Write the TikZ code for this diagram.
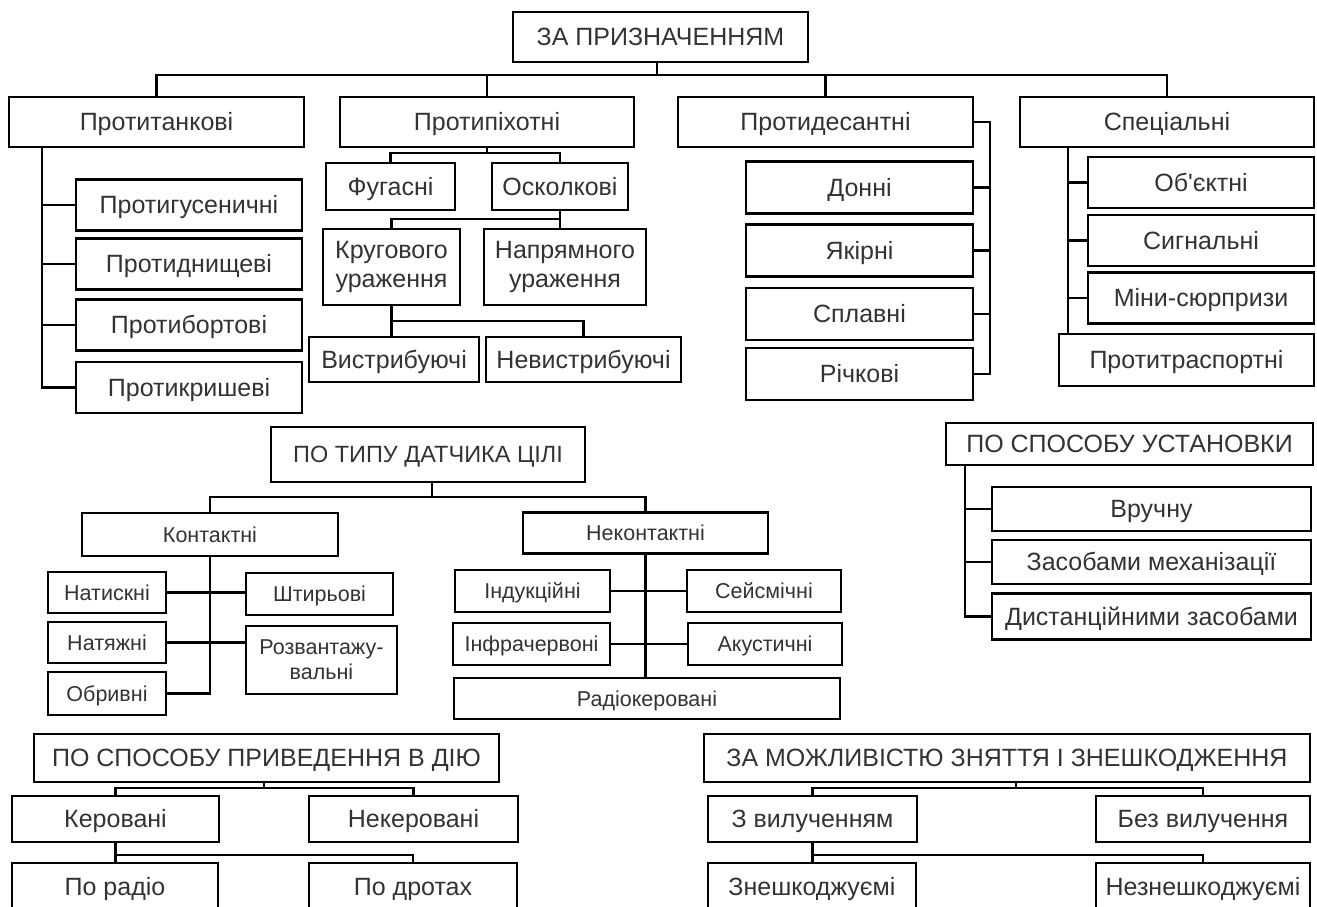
\documentclass[tikz,border=0pt]{standalone}
\usepackage{fontspec}
\setmainfont{Liberation Sans}[Ligatures=TeXOff]
\definecolor{txtgray}{HTML}{333333}
\tikzset{
  box/.style={draw, inner sep=2pt, text=txtgray, align=center, text height=18pt, text depth=0.5pt,
    font=\fontsize{25}{29}\selectfont},
  sbox/.style={box, text height=15.5pt, font=\fontsize{21.5}{25}\selectfont},
  twoline/.style={text height=, text depth=},
  wh/.style 2 args={minimum width=#1pt, minimum height=#2pt},
}
\begin{document}
\begin{tikzpicture}[x=1pt, y=-1pt, line width=2.6pt]
  \clip (0,0) rectangle (1317,907);
  \fill[white] (0,0) rectangle (1317,907);

  % ZA PRYZNACHENNYAM
  \node[box, wh={295}{50}] (zap) at (660.5,37) {ЗА ПРИЗНАЧЕННЯМ};
  \node[box, wh={295}{50}] (ptank) at (156.5,122) {Протитанкові};
  \node[box, wh={294}{50}] (ppih) at (487,122) {Протипіхотні};
  \node[box, wh={295}{50}] (pdes) at (825.5,122) {Протидесантні};
  \node[box, wh={294}{50}] (spec) at (1167,122) {Спеціальні};

  \node[box, wh={226}{51}] (pgus) at (189,205) {Протигусеничні};
  \node[box, wh={226}{51}] (pdno) at (189,264) {Протиднищеві};
  \node[box, wh={226}{51}] (pbort) at (189,325) {Протибортові};
  \node[box, wh={226}{51}] (pkrysh) at (189,387.5) {Протикришеві};

  \node[box, wh={129}{47}] (fug) at (390.5,186.5) {Фугасні};
  \node[box, wh={136}{47}] (osk) at (560,186.5) {Осколкові};
  \node[box, twoline, wh={137}{76}] (krug) at (391.5,267) {Кругового\\ураження};
  \node[box, twoline, wh={162}{76}] (napr) at (565,267) {Напрямного\\ураження};
  \node[box, wh={170}{45}] (vystr) at (394,359.5) {Вистрибуючі};
  \node[box, wh={195}{45}] (nevystr) at (583.5,359.5) {Невистрибуючі};

  \node[box, wh={227}{52}] (don) at (859.5,187.5) {Донні};
  \node[box, wh={227}{52}] (yak) at (859.5,250.5) {Якірні};
  \node[box, wh={227}{52}] (splav) at (859.5,314) {Сплавні};
  \node[box, wh={227}{52}] (rich) at (859.5,374) {Річкові};

  \node[box, wh={226}{51}] (obj) at (1201,182.5) {Об'єктні};
  \node[box, wh={226}{51}] (sign) at (1201,240.5) {Сигнальні};
  \node[box, wh={226}{51}] (minys) at (1201,298) {Міни-сюрпризи};
  \node[box, wh={255}{52}] (ptrans) at (1186.5,360) {Протитраспортні};

  \coordinate (zapbus) at (657,75);
  \draw (zap.south -| zapbus) -- (zapbus);
  \draw (ptank.north) |- (zapbus) -| (spec.north);
  \draw (ppih.north) -- (ppih.north |- zapbus);
  \draw (pdes.north) -- (pdes.north |- zapbus);

  \coordinate (tankx) at (42,0);
  \draw (ptank.south -| tankx) |- (pkrysh.west);
  \foreach \n in {pgus,pdno,pbort}
    \draw (\n.west) -- (\n.west -| tankx);

  \coordinate (pihbus) at (0,153);
  \draw (ppih.south) -- (ppih.south |- pihbus);
  \draw (fug.north) |- (ppih.south |- pihbus) -| (osk.north);
  \coordinate (oskbus) at (0,219);
  \draw (osk.south) -- (osk.south |- napr.north);
  \draw (krug.north) |- (osk.south |- oskbus);
  \coordinate (krugbus) at (0,321);
  \draw (krug.south) -- (krug.south |- vystr.north);
  \draw (krug.south |- krugbus) -| (nevystr.north);

  \coordinate (desx) at (990,0);
  \draw (pdes.east) -| (desx |- rich.east) -- (rich.east);
  \foreach \n in {don,yak,splav}
    \draw (\n.east) -- (\n.east -| desx);

  \coordinate (specx) at (1068,0);
  \draw (spec.south -| specx) -- (ptrans.north -| specx);
  \foreach \n in {obj,sign,minys}
    \draw (\n.west) -- (\n.west -| specx);

  % PO TYPU DATCHYKA
  \node[box, wh={314}{55}, text height=17pt, font=\fontsize{23.5}{27}\selectfont] (ptyp) at (428,454.5) {ПО ТИПУ ДАТЧИКА ЦІЛІ};
  \node[sbox, wh={256}{43}] (kont) at (210,534.5) {Контактні};
  \node[sbox, wh={245}{41}] (nekont) at (645.5,533) {Неконтактні};
  \node[sbox, wh={118}{41}] (natysk) at (107,592.5) {Натискні};
  \node[sbox, wh={118}{41}] (natyag) at (107,642.5) {Натяжні};
  \node[sbox, wh={118}{43}] (obryv) at (107,693.5) {Обривні};
  \node[sbox, wh={147}{42}] (shtyr) at (319.5,594) {Штирьові};
  \node[sbox, twoline, wh={151}{68}] (rozv) at (321.5,660) {Розвантажу-\\вальні};
  \node[sbox, wh={155}{42}] (induk) at (532.5,591) {Індукційні};
  \node[sbox, wh={157}{42}] (infra) at (531.5,644) {Інфрачервоні};
  \node[sbox, wh={154}{42}] (seism) at (764,591) {Сейсмічні};
  \node[sbox, wh={154}{42}] (akust) at (765,644) {Акустичні};
  \node[sbox, wh={386}{41}] (radio) at (647,698.5) {Радіокеровані};

  \coordinate (typbus) at (432,497);
  \draw (ptyp.south -| typbus) -- (typbus);
  \draw (kont.north) |- (typbus) -| (nekont.north);
  \draw (kont.south) |- (obryv.east);
  \draw (natysk.east) -- (natysk.east -| shtyr.west);
  \draw (natyag.east) -- (natyag.east -| rozv.west);
  \draw (nekont.south) -- (nekont.south |- radio.north);
  \draw (induk.east) -- (induk.east -| seism.west);
  \draw (infra.east) -- (infra.east -| akust.west);

  % PO SPOSOBU USTANOVKY
  \node[box, wh={367}{42}] (pust) at (1129.5,444) {ПО СПОСОБУ УСТАНОВКИ};
  \node[box, wh={319}{44}] (vruch) at (1151.5,509) {Вручну};
  \node[box, wh={319}{44}] (zmech) at (1151.5,562) {Засобами механізації};
  \node[box, wh={319}{46}] (dist) at (1151.5,616.5) {Дистанційними засобами};

  \coordinate (ustx) at (965,0);
  \draw (pust.south -| ustx) |- (dist.west);
  \foreach \n in {vruch,zmech}
    \draw (\n.west) -- (\n.west -| ustx);

  % PO SPOSOBU PRYVEDENNYA
  \node[box, wh={465}{48}] (pspr) at (266.5,758) {ПО СПОСОБУ ПРИВЕДЕННЯ В ДІЮ};
  \node[box, wh={207}{46}] (ker) at (115.5,819) {Керовані};
  \node[box, wh={209}{46}] (neker) at (413.5,819) {Некеровані};
  \node[box, wh={206}{47}] (prad) at (115,886.5) {По радіо};
  \node[box, wh={208}{47}] (pdrot) at (413,886.5) {По дротах};

  \coordinate (sprbus) at (264,788);
  \draw (pspr.south -| sprbus) -- (sprbus);
  \draw (ker.north) |- (sprbus) -| (neker.north);
  \coordinate (kerbus) at (0,855);
  \draw (ker.south) -- (ker.south |- prad.north);
  \draw (ker.south |- kerbus) -| (pdrot.north);

  % ZA MOZHLYVISTYU
  \node[box, wh={606}{48}] (zmozh) at (1007,758) {ЗА МОЖЛИВІСТЮ ЗНЯТТЯ І ЗНЕШКОДЖЕННЯ};
  \node[box, wh={209}{46}] (zvyl) at (812.5,819) {З вилученням};
  \node[box, wh={214}{46}] (bezvyl) at (1203,819) {Без вилучення};
  \node[box, wh={208}{47}] (znesh) at (812,886.5) {Знешкоджуємі};
  \node[box, wh={214}{47}] (neznesh) at (1203,886.5) {Незнешкоджуємі};

  \coordinate (mozhbus) at (1016,788);
  \draw (zmozh.south -| mozhbus) -- (mozhbus);
  \draw (zvyl.north) |- (mozhbus) -| (bezvyl.north);
  \coordinate (zvylbus) at (0,855);
  \draw (zvyl.south) -- (zvyl.south |- znesh.north);
  \draw (zvyl.south |- zvylbus) -| (neznesh.north);
\end{tikzpicture}
\end{document}
